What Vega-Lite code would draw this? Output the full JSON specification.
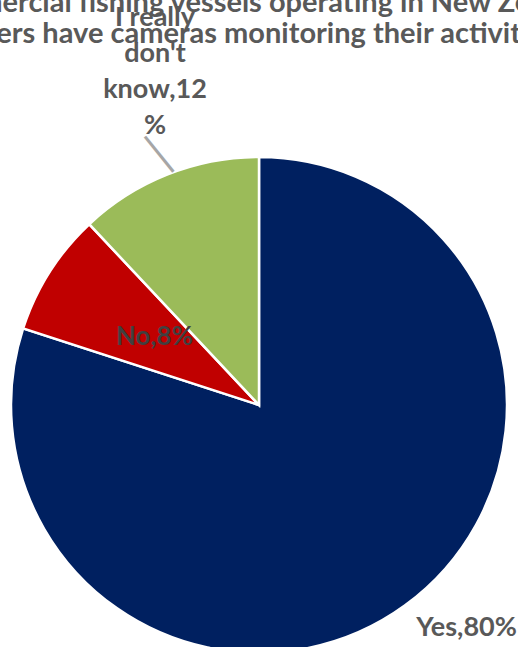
{
  "$schema": "https://vega.github.io/schema/vega-lite/v6.json",
  "width": 518,
  "height": 484,
  "autosize": {"type": "none"},
  "padding": {"top": 163, "left": 0, "right": 0, "bottom": 0},
  "background": "white",
  "title": {
    "text": ["Commercial fishing vessels operating in New Zealand", "waters have cameras monitoring their activities?"],
    "font": "Lato",
    "fontSize": 29,
    "fontWeight": "bold",
    "color": "#595959",
    "anchor": "middle",
    "frame": "group",
    "offset": -45,
    "lineHeight": 31
  },
  "data": {
    "values": [
      {"answer": "Yes", "pct": 80, "rank": 1, "label": "Yes,80%"},
      {"answer": "No", "pct": 8, "rank": 2, "label": "No,8%"},
      {"answer": "I really don't know", "pct": 12, "rank": 3, "label": "I really\ndon't\nknow,12\n%"}
    ]
  },
  "encoding": {
    "theta": {"field": "pct", "type": "quantitative", "stack": true},
    "order": {"field": "rank", "type": "quantitative"}
  },
  "layer": [
    {
      "mark": {"type": "arc", "radius": 248, "stroke": "white", "strokeWidth": 2.5},
      "encoding": {
        "color": {
          "field": "answer",
          "type": "nominal",
          "scale": {"domain": ["Yes", "No", "I really don't know"], "range": ["#002060", "#C00000", "#9BBB59"]},
          "legend": null
        }
      }
    },
    {
      "mark": {"type": "text", "radius": 125, "font": "Lato", "fontSize": 26, "fontWeight": "bold", "color": "#404040", "align": "center", "baseline": "middle", "dx": 1, "dy": -1},
      "encoding": {"text": {"condition": {"test": "datum.rank === 2", "field": "label"}, "value": ""}}
    },
    {
      "mark": {"type": "text", "radius": 280, "font": "Lato", "fontSize": 27, "fontWeight": "bold", "color": "#595959", "align": "center", "baseline": "middle", "dx": 43, "dy": -4},
      "encoding": {"text": {"condition": {"test": "datum.rank === 1", "field": "label"}, "value": ""}}
    },
    {
      "mark": {"type": "text", "radius": 345, "font": "Lato", "fontSize": 27, "fontWeight": "bold", "color": "#595959", "align": "center", "baseline": "middle", "lineBreak": "\n", "lineHeight": 36, "dx": 23, "dy": -66},
      "encoding": {"text": {"condition": {"test": "datum.rank === 3", "field": "label"}, "value": ""}}
    },
    {
      "mark": {"type": "text", "radius": 268, "font": "DejaVu Sans Mono", "fontSize": 38, "color": "#a6a6a6", "align": "center", "baseline": "middle", "angle": 321},
      "encoding": {"text": {"condition": {"test": "datum.rank === 3", "value": "│"}, "value": ""}}
    }
  ]
}
